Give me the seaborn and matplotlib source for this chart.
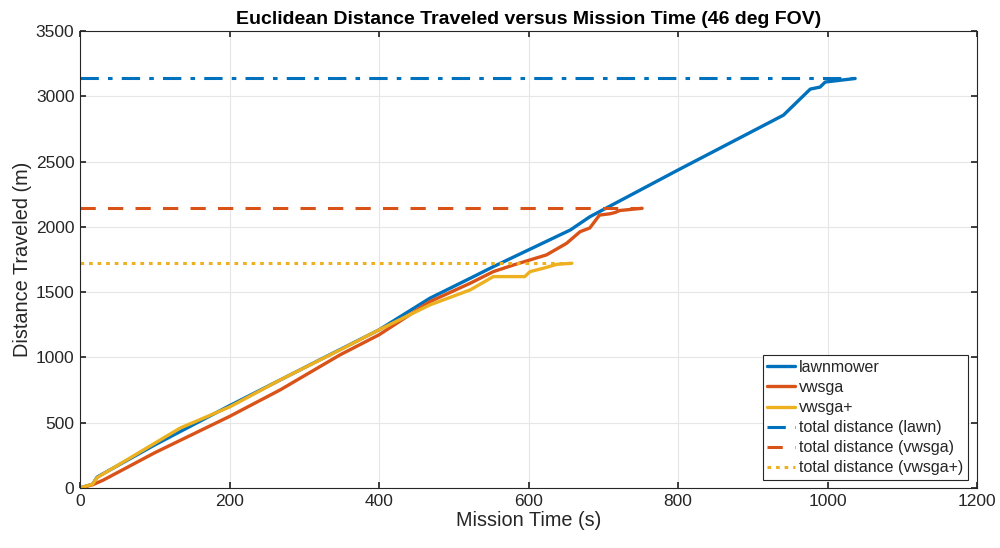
import numpy as np
import pandas as pd
import matplotlib
matplotlib.use("Agg")
import matplotlib.pyplot as plt
import seaborn as sns

# ---- data ----
lawn_t = [0, 17, 23, 100, 200, 334, 400, 468, 522, 553, 656, 682, 800, 941, 977, 990, 997, 1037]
lawn_d = [0, 30, 84, 330, 630, 1020, 1211, 1453, 1606, 1695, 1976, 2077, 2435, 2855, 3055, 3070, 3109, 3136]

vwsga_t = [0, 17, 31, 100, 200, 268, 348, 400, 468, 522, 553, 580, 624, 651, 669, 682, 695, 709, 716, 722, 752]
vwsga_d = [0, 25, 60, 270, 548, 752, 1020, 1173, 1427, 1568, 1657, 1708, 1785, 1874, 1963, 1991, 2090, 2100, 2110, 2125, 2142]

vplus_t = [0, 17, 23, 134, 200, 268, 348, 400, 468, 522, 553, 595, 602, 620, 638, 658]
vplus_d = [0, 30, 80, 459, 620, 828, 1058, 1211, 1402, 1517, 1619, 1619, 1657, 1683, 1713, 1721]

total_lawn = 3136
total_vwsga = 2142
total_vplus = 1721

series_names = ["lawnmower", "vwsga", "vwsga+"]
total_names = ["total distance (lawn)", "total distance (vwsga)", "total distance (vwsga+)"]
colors = ["#0072BD", "#D95319", "#EDB120"]

xticks = [0, 200, 400, 600, 800, 1000, 1200]
yticks = [0, 500, 1000, 1500, 2000, 2500, 3000, 3500]

# ---- build tables ----
df = pd.concat([
    pd.DataFrame({"t": lawn_t, "d": lawn_d, "series": series_names[0]}),
    pd.DataFrame({"t": vwsga_t, "d": vwsga_d, "series": series_names[1]}),
    pd.DataFrame({"t": vplus_t, "d": vplus_d, "series": series_names[2]}),
], ignore_index=True)

ends = [lawn_t[-1], vwsga_t[-1], vplus_t[-1]]
totals = [total_lawn, total_vwsga, total_vplus]
tot_df = pd.concat([
    pd.DataFrame({"t": [0, e], "d": [v, v], "series": n})
    for e, v, n in zip(ends, totals, total_names)
], ignore_index=True)

sns.set_theme(style="whitegrid")
plt.rcParams["font.family"] = ["Liberation Sans", "DejaVu Sans"]

fig = plt.figure(figsize=(10, 5.48), dpi=100)
ax = fig.add_axes([0.08, 0.1095, 0.897, 0.834])

pal = dict(zip(series_names, colors))
sns.lineplot(data=df, x="t", y="d", hue="series", palette=pal, ax=ax,
             linewidth=2.4, sort=False, estimator=None, legend=False)

styles = ["-.", "--", ":"]
for n, c, ls in zip(total_names, colors, styles):
    sub = tot_df[tot_df["series"] == n]
    sns.lineplot(data=sub, x="t", y="d", color=c, ax=ax, linewidth=2.2,
                 linestyle=ls, estimator=None, sort=False, legend=False)

for line, ls in zip(ax.lines[3:6], styles):
    line.set_linestyle(ls)
ax.lines[3].set_dashes([6, 3, 1.5, 3])
ax.lines[4].set_dashes([5, 4])
ax.lines[5].set_dashes([1.2, 1.6])

ax.set_xlim(0, 1200)
ax.set_ylim(0, 3500)
ax.set_xticks(xticks)
ax.set_yticks(yticks)
ax.tick_params(axis="both", direction="in", length=4, labelsize=12.5,
               colors="#262626", bottom=True, left=True, top=True, right=True,
               labeltop=False, labelright=False, pad=4)
ax.grid(True, color="#e6e6e6", linewidth=0.8)
for s in ax.spines.values():
    s.set_visible(True)
    s.set_color("#262626")
    s.set_linewidth(0.8)
ax.set_facecolor("white")

ax.set_xlabel("Mission Time (s)", fontsize=14.3, color="#262626", labelpad=2)
ax.set_ylabel("Distance Traveled (m)", fontsize=14.3, color="#262626", labelpad=3)
ax.set_title("Euclidean Distance Traveled versus Mission Time (46 deg FOV)",
             fontsize=14, fontweight="bold", color="black", pad=5)

leg = ax.legend(ax.lines[:6], series_names + total_names, loc="lower right",
                bbox_to_anchor=(0.9895, 0.017), fontsize=11.5, handlelength=1.75,
                handletextpad=0.2, borderpad=0.3, labelspacing=0.32,
                borderaxespad=0, frameon=True, fancybox=False, framealpha=1)
leg.get_frame().set_edgecolor("#262626")
leg.get_frame().set_linewidth(0.8)

fig.savefig("out.png", dpi=100, facecolor="white")
